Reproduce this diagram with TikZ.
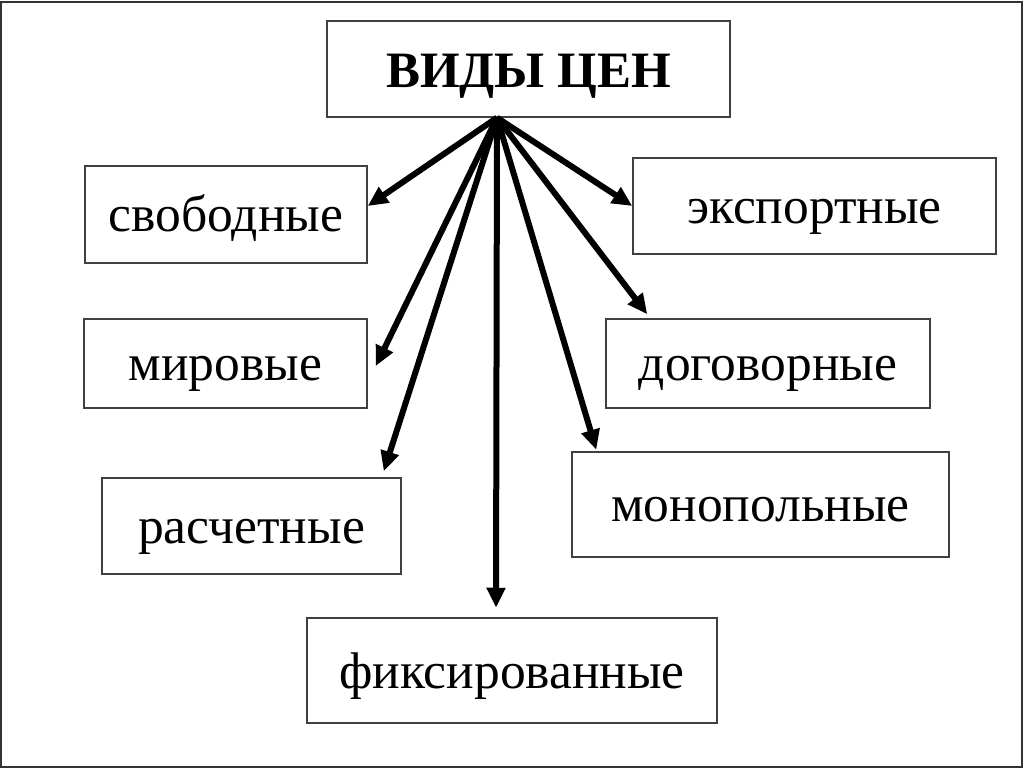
\documentclass[tikz,border=0pt]{standalone}
\usepackage{fontspec}
\setmainfont{Liberation Serif}
\usepackage{xcolor}
\usetikzlibrary{positioning,arrows.meta}

\begin{document}
\begin{tikzpicture}[x=1pt,y=1pt,
    box/.style={draw=black!75,line width=1.5pt,inner sep=0pt,text height=45pt,text depth=10pt,
      font=\fontsize{51.5}{60}\selectfont},
    arr/.style={line width=6pt,-{Triangle[length=20pt,width=18pt]}}]
    \useasboundingbox (0,0) rectangle (1024,768);
    \draw[black!80,line width=2.5pt] (1,1) rectangle (1022,766);
    \node[box,minimum width=403,minimum height=96,text height=48pt,
      font=\fontsize{51}{60}\selectfont\bfseries] (top) at (528.5,699) {ВИДЫ ЦЕН};
    \node[box,minimum width=282,minimum height=97] (svob) at (226,553.5) {свободные};
    \node[box,minimum width=363,minimum height=96] (eksp) at (814.5,562) {экспортные};
    \node[box,minimum width=283,minimum height=89] (mir) at (225.5,404.5) {мировые};
    \node[box,minimum width=324,minimum height=89] (dog) at (768,404.5) {договорные};
    \node[box,minimum width=299,minimum height=96] (rasch) at (251.5,242) {расчетные};
    \node[box,minimum width=377,minimum height=105] (mono) at (760.5,263.5) {монопольные};
    \node[box,minimum width=410,minimum height=105] (fix) at (512,97.5) {фиксированные};
    \coordinate (src) at ([xshift=-31.5]top.south);
    \draw[arr] (src) -- ([yshift=8.5]svob.east);
    \draw[arr] (src) -- (eksp.west);
    \draw[arr] (src) -- ([xshift=8,yshift=-2.5]mir.east);
    \draw[arr] (src) -- ([xshift=42,yshift=4]dog.north west);
    \draw[arr] (src) -- ([xshift=-18,yshift=6]rasch.north east);
    \draw[arr] (src) -- ([xshift=25,yshift=1.5]mono.north west);
    \draw[arr] (src) -- ([xshift=-16,yshift=9.5]fix.north);
\end{tikzpicture}
\end{document}
